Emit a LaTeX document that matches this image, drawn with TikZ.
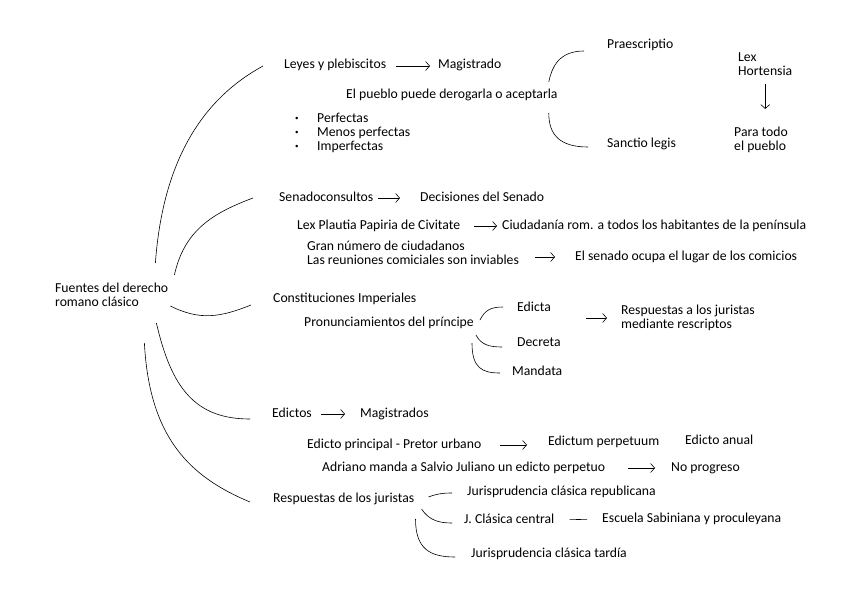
\documentclass[tikz,border=0pt]{standalone}
\usepackage{fontspec}
\setmainfont{Carlito}
\usetikzlibrary{arrows.meta,calc}

\begin{document}
\begin{tikzpicture}[
  x=1pt, y=-1pt,
  font=\fontsize{13.7}{14}\selectfont,
  >={Straight Barb[length=4pt,width=9pt]},
  txt/.style={anchor=west, inner sep=0pt, align=left, text height=9pt, text depth=3pt},
  multi/.style={anchor=west, inner sep=0pt, align=left},
  flow/.style={->, semithick},
  brace/.style={semithick}
]
\useasboundingbox (0,0) rectangle (848,599);

\node[multi] (root) at (55,295) {Fuentes del derecho\\romano clásico};

% leyes y plebiscitos
\node[txt] (leyes) at (284,66) {Leyes y plebiscitos};
\node[txt] (mag) at (438,66) {Magistrado};
\node[txt] (pueblo) at (346,96) {El pueblo puede derogarla o aceptarla};
\node[multi] (tipos) at (295,133) {\makebox[22pt][l]{\raisebox{2pt}{\scriptsize\textbullet}}Perfectas\\\makebox[22pt][l]{\raisebox{2pt}{\scriptsize\textbullet}}Menos perfectas\\\makebox[22pt][l]{\raisebox{2pt}{\scriptsize\textbullet}}Imperfectas};
\node[txt] (praes) at (607,46) {Praescriptio};
\node[txt] (sanctio) at (607,144) {Sanctio legis};
\node[multi] (hort) at (738,64) {Lex\\Hortensia};
\node[multi] (todo) at (734,140) {Para todo\\el pueblo};

% senadoconsultos
\node[txt] (senado) at (279,198) {Senadoconsultos};
\node[txt] (decis) at (420,198) {Decisiones del Senado};
\node[txt] (plautia) at (297,226) {Lex Plautia Papiria de Civitate};
\node[txt] (ciudad) at (502,226) {Ciudadanía rom. a todos los habitantes de la península};
\node[multi] (gran) at (307,253) {Gran número de ciudadanos\\Las reuniones comiciales son inviables};
\node[txt] (ocupa) at (575,257) {El senado ocupa el lugar de los comicios};

% constituciones
\node[txt] (const) at (273,299) {Constituciones Imperiales};
\node[txt] (pron) at (304,323) {Pronunciamientos del príncipe};
\node[txt] (edicta) at (517,308) {Edicta};
\node[txt] (decreta) at (517,343) {Decreta};
\node[txt] (mandata) at (512,372) {Mandata};
\node[multi] (rescr) at (621,318) {Respuestas a los juristas\\mediante rescriptos};

% edictos
\node[txt] (edictos) at (272,414) {Edictos};
\node[txt] (magis) at (360,414) {Magistrados};
\node[txt] (princ) at (307,445) {Edicto principal - Pretor urbano};
\node[txt] (perpet) at (548,442) {Edictum perpetuum};
\node[txt] (anual) at (685,441) {Edicto anual};
\node[txt] (adriano) at (322,468) {Adriano manda a Salvio Juliano un edicto perpetuo};
\node[txt] (noprog) at (671,468) {No progreso};

% respuestas
\node[txt] (resp) at (273,499) {Respuestas de los juristas};
\node[txt] (repub) at (467,492) {Jurisprudencia clásica republicana};
\node[txt] (central) at (464,520) {J. Clásica central};
\node[txt] (escuela) at (602,519) {Escuela Sabiniana y proculeyana};
\node[txt] (tardia) at (471,554) {Jurisprudencia clásica tardía};

% main branches
\draw[brace] ($(root.east)+(-13,-32)$) .. controls +(8,-110) and +(-55,30) .. ($(leyes.west)+(-21,0)$);
\draw[brace] ($(root.east)+(6,-20)$) .. controls +(10,-45) and +(-40,15) .. ($(senado.west)+(-26,0)$);
\draw[brace] ($(root.east)+(2,11)$) .. controls +(30,15) and +(-30,12) .. ($(const.west)+(-22,6)$);
\draw[brace] ($(root.east)+(-12,28)$) .. controls +(15,65) and +(-55,0) .. ($(edictos.west)+(-22,5)$);
\draw[brace] ($(root.east)+(-24,48)$) .. controls +(5,95) and +(-60,-25) .. ($(resp.west)+(-23,3)$);

% sub branches
\draw[brace] ($(pueblo.east)+(-9,-14)$) .. controls +(3,-15) and +(-25,0) .. ($(praes.west)+(-23,5)$);
\draw[brace] ($(pueblo.east)+(-9,17)$) .. controls +(0,22) and +(-28,0) .. ($(sanctio.west)+(-19,3)$);
\draw[brace] ($(pron.east)+(6,-3)$) .. controls +(5,-10) and +(-12,0) .. ($(edicta.west)+(-14,-1)$);
\draw[brace] ($(pron.east)+(2,12)$) .. controls +(5,10) and +(-12,0) .. ($(decreta.west)+(-15,4)$);
\draw[brace] ($(pron.east)+(-2,20)$) .. controls +(0,25) and +(-18,0) .. ($(mandata.west)+(-12,1)$);
\draw[brace] ($(resp.east)+(14,-2)$) .. controls +(8,-3) and +(-10,0) .. ($(repub.west)+(-15,1)$);
\draw[brace] ($(resp.east)+(7,10)$) .. controls +(8,12) and +(-12,0) .. ($(central.west)+(-12,3)$);
\draw[brace] ($(resp.east)+(1,20)$) .. controls +(0,30) and +(-25,0) .. ($(tardia.west)+(-16,3)$);

% arrows
\draw[flow, shorten <=10pt, shorten >=8pt] (leyes.east) -- (mag.west);
\draw[flow, shorten <=8pt, shorten >=18pt] (hort.south) -- (hort.south |- todo.north);
\draw[flow, shorten <=4pt, shorten >=20pt] (senado.east) -- (decis.west);
\draw[flow, shorten <=14pt, shorten >=5pt] (plautia.east) -- (ciudad.west);
\draw[flow, shorten <=16pt, shorten >=20pt] (gran.east |- ocupa.west) -- (ocupa.west);
\draw[flow, shorten <=25pt, shorten >=14pt] (decreta.east |- rescr.west) -- (rescr.west);
\draw[flow, shorten <=9pt, shorten >=15pt] (edictos.east) -- (magis.west);
\draw[flow, shorten <=19pt, shorten >=21pt] (princ.east) -- (perpet.west |- princ.east);
\draw[flow, shorten <=23pt, shorten >=16pt] (adriano.east) -- (noprog.west);
\draw[semithick, shorten <=15pt, shorten >=15pt] (central.east) -- (escuela.west);
\end{tikzpicture}
\end{document}
